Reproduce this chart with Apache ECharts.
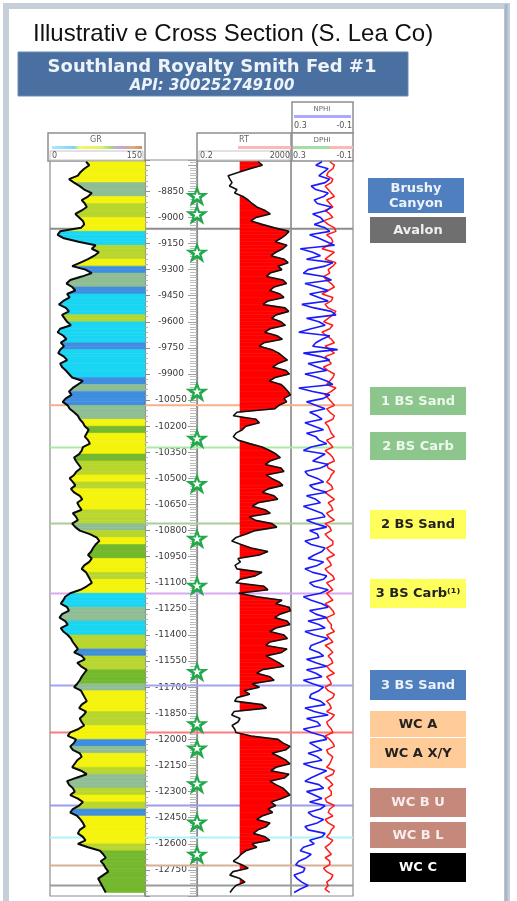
<!DOCTYPE html>
<html>
<head>
<meta charset="utf-8">
<script src="https://cdn.jsdelivr.net/npm/echarts@6/dist/echarts.min.js"></script>
<style>
html,body{margin:0;padding:0;background:#fff}
#chart{width:517px;height:901px}
</style>
</head>
<body>
<div id="chart"></div>
<script>
// ---- Log samples (measured depth in ft, every 20 ft) ----
const DEPTH = [
  8680, 8700, 8720, 8740, 8760, 8780, 8800, 8820, 8840, 8860,
  8880, 8900, 8920, 8940, 8960, 8980, 9000, 9020, 9040, 9060,
  9080, 9100, 9120, 9140, 9160, 9180, 9200, 9220, 9240, 9260,
  9280, 9300, 9320, 9340, 9360, 9380, 9400, 9420, 9440, 9460,
  9480, 9500, 9520, 9540, 9560, 9580, 9600, 9620, 9640, 9660,
  9680, 9700, 9720, 9740, 9760, 9780, 9800, 9820, 9840, 9860,
  9880, 9900, 9920, 9940, 9960, 9980, 10000, 10020, 10040, 10060,
  10080, 10100, 10120, 10140, 10160, 10180, 10200, 10220, 10240, 10260,
  10280, 10300, 10320, 10340, 10360, 10380, 10400, 10420, 10440, 10460,
  10480, 10500, 10520, 10540, 10560, 10580, 10600, 10620, 10640, 10660,
  10680, 10700, 10720, 10740, 10760, 10780, 10800, 10820, 10840, 10860,
  10880, 10900, 10920, 10940, 10960, 10980, 11000, 11020, 11040, 11060,
  11080, 11100, 11120, 11140, 11160, 11180, 11200, 11220, 11240, 11260,
  11280, 11300, 11320, 11340, 11360, 11380, 11400, 11420, 11440, 11460,
  11480, 11500, 11520, 11540, 11560, 11580, 11600, 11620, 11640, 11660,
  11680, 11700, 11720, 11740, 11760, 11780, 11800, 11820, 11840, 11860,
  11880, 11900, 11920, 11940, 11960, 11980, 12000, 12020, 12040, 12060,
  12080, 12100, 12120, 12140, 12160, 12180, 12200, 12220, 12240, 12260,
  12280, 12300, 12320, 12340, 12360, 12380, 12400, 12420, 12440, 12460,
  12480, 12500, 12520, 12540, 12560, 12580, 12600, 12620, 12640, 12660,
  12680, 12700, 12720, 12740, 12760, 12780, 12800, 12820, 12840, 12860,
  12880
];

// Gamma ray, API
const GR = [
  57, 62, 54, 48, 44, 30, 38, 47, 54, 66,
  60, 50, 55, 58, 50, 40, 46, 52, 54, 49,
  16, 12, 22, 45, 72, 66, 77, 70, 60, 48,
  35, 56, 66, 50, 32, 26, 35, 40, 27, 31,
  21, 14, 25, 30, 19, 23, 27, 33, 16, 12,
  21, 26, 17, 22, 16, 13, 22, 27, 16, 19,
  25, 30, 35, 52, 44, 36, 30, 34, 25, 20,
  28, 31, 38, 44, 47, 52, 55, 61, 58, 55,
  60, 63, 52, 50, 46, 38, 41, 45, 49, 42,
  38, 31, 36, 40, 33, 38, 47, 51, 43, 46,
  50, 36, 41, 44, 35, 40, 47, 63, 74, 78,
  72, 68, 65, 60, 66, 62, 54, 50, 57, 60,
  63, 66, 58, 48, 32, 24, 21, 17, 27, 30,
  19, 15, 24, 28, 17, 21, 28, 33, 36, 40,
  44, 38, 50, 55, 43, 49, 58, 54, 50, 47,
  43, 38, 49, 52, 55, 58, 50, 46, 57, 53,
  47, 50, 54, 45, 32, 28, 41, 38, 32, 36,
  47, 50, 43, 39, 35, 49, 58, 42, 27, 30,
  36, 39, 32, 44, 52, 46, 36, 32, 43, 48,
  52, 55, 47, 44, 52, 56, 44, 60, 79, 84,
  88, 80, 85, 88, 92, 84, 76, 79, 82, 85,
  88
];

// Lithology shading class per 40-ft interval (C cyan, B blue, O grey-green, L lime, Y yellow, G green)
const FACIES = (
  'YYYOOYLLYY' + 'CCLLYBOOBC' + 'CCLCCCBCCC' + 'CBOBBOOYGY' + 'YYGLLYLYYY' +
  'LLOLYGGYYL' + 'YYCCOOCCLL' + 'BLLGGOYYYL' + 'LYYBOYYLOO' + 'LYLBYYYYLG' + 'GGGGG'
).split('');

// Deep resistivity, ohm-m
const RT = [
  79, 120, 36, 12, 4.2, 5, 6.2, 4.8, 10, 8,
  18, 30, 44, 70, 157, 260, 65, 40, 117, 400,
  1644, 1200, 750, 420, 1351, 900, 460, 280, 1007, 1500,
  560, 820, 255, 180, 914, 1300, 378, 250, 681, 1000,
  210, 130, 1111, 1600, 460, 300, 750, 1150, 255, 150,
  507, 850, 142, 90, 311, 600, 914, 1400, 560, 330,
  1225, 1700, 417, 240, 750, 1100, 1490, 1900, 1007, 1300,
  617, 400, 10, 7, 65, 90, 24, 17, 9.1, 7,
  11, 35, 117, 250, 460, 700, 255, 160, 750, 1000,
  173, 300, 617, 900, 210, 120, 378, 550, 79, 45,
  157, 260, 33, 60, 311, 500, 59, 25, 9.1, 6,
  15, 40, 210, 90, 11, 14, 8.3, 10, 117, 60,
  13.5, 9, 142, 210, 12, 70, 828, 450, 1644, 1900,
  681, 400, 1351, 1800, 460, 250, 1007, 1400, 255, 170,
  1351, 800, 173, 330, 617, 1000, 117, 70, 255, 380,
  44, 90, 20, 35, 10, 8, 117, 180, 7.5, 6,
  13.5, 11, 6.2, 8, 9.1, 40, 560, 900, 1813, 1200,
  311, 650, 1225, 1800, 460, 280, 1644, 1100, 255, 450,
  914, 1300, 1813, 800, 282, 450, 210, 330, 117, 70,
  255, 180, 79, 50, 157, 250, 44, 70, 24, 15,
  11, 7, 16, 30, 6.8, 5, 13.5, 22, 9.1, 6.5,
  5.1
];
const RT_CUTOFF = 13.5;

// Neutron porosity, v/v
const NPHI = [
  0.10, 0.14, 0.06, 0.09, 0.12, 0.05, 0.08, 0.17, 0.14, 0.06, 0.09, 0.15, 0.13, 0.04, 0.07, 0.16, 0.11, 0.09, 0.15, 0.08,
  0.05, 0.18, 0.12, 0.07, 0.02, 0.24, 0.16, 0.11, 0.20, 0.03, 0.08, 0.19, 0.22, 0.09, 0.04, 0.21, 0.13, 0.06, 0.18, 0.12,
  0.06, 0.23, 0.15, 0.04, 0.01, 0.20, 0.12, 0.08, 0.17, 0.25, 0.05, 0.10, 0.14, 0.16, 0.00, 0.22, 0.11, 0.05, 0.19, 0.13,
  0.07, 0.21, 0.13, 0.07, 0.03, 0.25, 0.16, 0.05, 0.09, 0.20, 0.14, 0.08, 0.18, 0.13, 0.10, 0.21, 0.15, 0.09, 0.20, 0.14,
  0.12, 0.07, 0.17, 0.22, 0.08, 0.12, 0.16, 0.06, 0.11, 0.21, 0.19, 0.13, 0.09, 0.18, 0.15, 0.07, 0.20, 0.14, 0.11, 0.22,
  0.16, 0.10, 0.08, 0.20, 0.14, 0.07, 0.18, 0.13, 0.12, 0.21, 0.17, 0.08, 0.10, 0.15, 0.19, 0.09, 0.13, 0.21, 0.16, 0.07,
  0.09, 0.18, 0.15, 0.06, 0.11, 0.22, 0.17, 0.10, 0.06, 0.18, 0.14, 0.07, 0.19, 0.12, 0.08, 0.21, 0.15, 0.06, 0.11, 0.17,
  0.18, 0.12, 0.09, 0.20, 0.14, 0.07, 0.20, 0.14, 0.10, 0.22, 0.16, 0.09, 0.12, 0.17, 0.18, 0.11, 0.08, 0.21, 0.15, 0.06,
  0.20, 0.13, 0.11, 0.22, 0.17, 0.09, 0.07, 0.18, 0.14, 0.10, 0.19, 0.13, 0.10, 0.22, 0.16, 0.07, 0.12, 0.17, 0.21, 0.12,
  0.09, 0.20, 0.15, 0.10, 0.18, 0.08, 0.11, 0.19, 0.16, 0.09, 0.13, 0.21, 0.19, 0.08, 0.10, 0.18, 0.15, 0.22, 0.24, 0.17,
  0.20, 0.25, 0.27, 0.21, 0.22, 0.28, 0.26, 0.23, 0.19, 0.24, 0.28
];

// Density porosity, v/v
const DPHI = [
  0.05, 0.02, 0.03, 0.06, 0.07, 0.03, 0.04, 0.08, 0.06, 0.04, 0.02, 0.07, 0.05, 0.03, 0.08, 0.05, 0.03, 0.09, 0.06, 0.02,
  0.01, 0.07, 0.04, 0.03, 0.06, 0.10, 0.02, 0.05, 0.08, 0.01, 0.03, 0.06, 0.05, 0.09, 0.07, 0.04, 0.02, 0.06, 0.10, 0.03,
  0.04, 0.08, 0.06, 0.01, 0.03, 0.06, 0.09, 0.03, 0.05, 0.10, 0.07, 0.04, 0.02, 0.08, 0.05, 0.02, 0.08, 0.06, 0.04, 0.09,
  0.06, 0.02, 0.03, 0.05, 0.07, 0.01, 0.04, 0.08, 0.06, 0.04, 0.02, 0.07, 0.05, 0.02, 0.03, 0.08, 0.06, 0.05, 0.04, 0.02,
  0.07, 0.05, 0.03, 0.08, 0.05, 0.03, 0.02, 0.07, 0.06, 0.02, 0.04, 0.05, 0.07, 0.04, 0.03, 0.08, 0.05, 0.02, 0.06, 0.04,
  0.03, 0.07, 0.05, 0.02, 0.08, 0.05, 0.04, 0.08, 0.06, 0.03, 0.03, 0.07, 0.05, 0.02, 0.07, 0.05, 0.04, 0.08, 0.06, 0.03,
  0.02, 0.07, 0.05, 0.03, 0.07, 0.05, 0.03, 0.08, 0.05, 0.03, 0.02, 0.07, 0.06, 0.04, 0.04, 0.02, 0.07, 0.05, 0.03, 0.08,
  0.05, 0.03, 0.06, 0.04, 0.03, 0.07, 0.05, 0.02, 0.07, 0.05, 0.04, 0.08, 0.06, 0.02, 0.03, 0.07, 0.05, 0.04, 0.07, 0.02,
  0.04, 0.07, 0.06, 0.04, 0.03, 0.08, 0.05, 0.03, 0.02, 0.07, 0.06, 0.03, 0.04, 0.05, 0.07, 0.02, 0.03, 0.08, 0.05, 0.03,
  0.06, 0.04, 0.04, 0.08, 0.07, 0.02, 0.05, 0.06, 0.03, 0.08, 0.06, 0.02, 0.04, 0.05, 0.07, 0.03, 0.05, 0.08, 0.06, 0.04,
  0.08, 0.05, 0.05, 0.09, 0.07, 0.03, 0.04, 0.07, 0.06, 0.08, 0.05
];

// Formation tops (ft) and their line colours
const TOP_DEPTHS = [9065, 10080, 10322, 10759, 11161, 11690, 11960, 12380, 12564, 12725, 12840];
const TOP_COLORS = ['#8c8c8c', '#f6b08c', '#a6eca6', '#a9cd96', '#d9aaf2', '#a4a4f0', '#ff7a7a', '#9c9cec', '#aef4fa', '#d6b096', '#9a9a9a'];

// Picked landing points (ft)
const STAR_DEPTHS = [8875, 8980, 9200, 10000, 10270, 10530, 10845, 11115, 11610, 11910, 12050, 12255, 12475, 12660];

// Zone tags shown to the right of the log
const ZONE_NAMES = ['Brushy\nCanyon', 'Avalon', '1 BS Sand', '2 BS Carb', '2 BS Sand', '3 BS Carb\u207D\u00B9\u207E',
  '3 BS Sand', 'WC A', 'WC A X/Y', 'WC B U', 'WC B L', 'WC C'];
const ZONE_BOX = [[178, 213], [217, 243], [387, 415], [432, 460], [510, 539], [579, 608],
  [670, 700], [711, 737], [738, 768], [788, 817], [822, 848], [853, 882]];
const ZONE_FILL = ['#4f7fbe', '#6f6f6f', '#8dc68d', '#8dc68d', '#ffff5c', '#ffff5c',
  '#4f7fbe', '#ffcc99', '#ffcc99', '#c4897a', '#c4897a', '#000000'];
const ZONE_TEXT = ['#eef3fa', '#f0f0f0', '#eef8ee', '#eef8ee', '#222222', '#222222',
  '#eef3fa', '#222222', '#222222', '#f8eeee', '#f8eeee', '#ffffff'];

const FACIES_COLOR = { C: '#1ad6f3', B: '#3f8ee0', O: '#8fbe94', L: '#b9d62f', Y: '#f4f40c', G: '#74b92d' };

const Y_MIN = -12900, Y_MAX = -8670;

// ---- helpers ----
function txt(x, y, text, font, fill, align, valign) {
  return {
    type: 'text', x: x, y: y, silent: true,
    style: {
      text: text, font: font, fill: fill,
      align: align || 'center', verticalAlign: valign || 'middle',
      textAlign: align || 'center', textVerticalAlign: valign || 'middle'
    }
  };
}
function rect(x, y, w, h, fill, stroke, lw) {
  return {
    type: 'rect', silent: true, shape: { x: x, y: y, width: w, height: h },
    style: { fill: fill || 'none', stroke: stroke || 'none', lineWidth: lw || 0 }
  };
}
// Region between polyline a and polyline b where b lies to the right of a, for one segment
function bandPoly(a0, a1, b0, b1) {
  const d0 = b0[0] - a0[0], d1 = b1[0] - a1[0];
  if (d0 <= 0 && d1 <= 0) return null;
  if (d0 > 0 && d1 > 0) return [a0, b0, b1, a1];
  const t = d0 / (d0 - d1);
  const m = [a0[0] + (a1[0] - a0[0]) * t, a0[1] + (a1[1] - a0[1]) * t];
  return d0 > 0 ? [a0, b0, m] : [m, b1, a1];
}

const segIdx = DEPTH.slice(0, -1).map((d, i) => i);

// ---- static decorations: frame, title, well banner, track headers, zone tags ----
const sans = '"DejaVu Sans", sans-serif';
const elements = [];
elements.push(rect(6, 6, 501, 905, 'none', '#c6cfd9', 6));
elements.push({ type: 'line', silent: true, shape: { x1: 506, y1: 4, x2: 506, y2: 901 }, style: { stroke: '#a7b6ca', lineWidth: 3 } });
elements.push(txt(33, 34, 'Illustrativ e Cross Section (S. Lea Co)', '24px "Liberation Sans", Arial, sans-serif', '#111', 'left'));
elements.push(rect(18, 52, 390, 44, '#4a6fa1', '#6d8bb5', 1));
elements.push(txt(212, 67, 'Southland Royalty Smith Fed #1', 'bold 18px ' + sans, '#eef3f9'));
elements.push(txt(212, 86, 'API: 300252749100', 'italic bold 15px ' + sans, '#eef3f9'));

// GR header
elements.push(rect(48, 133, 97, 28, '#fff', '#8f8f8f', 1.5));
elements.push(txt(96, 140, 'GR', '8px ' + sans, '#666'));
elements.push({
  type: 'rect', silent: true, shape: { x: 52, y: 146, width: 90, height: 3 },
  style: {
    fill: new echarts.graphic.LinearGradient(0, 0, 1, 0, [
      { offset: 0, color: '#aee8ff' }, { offset: 0.25, color: '#7fd3f5' },
      { offset: 0.3, color: '#f6f66a' }, { offset: 0.55, color: '#e4ef6a' },
      { offset: 0.65, color: '#a7d88a' }, { offset: 0.75, color: '#c9a0ea' },
      { offset: 0.9, color: '#d9ad80' }, { offset: 1, color: '#c99266' }
    ])
  }
});
elements.push(rect(50, 151, 93, 9, 'none', '#c4c4c4', 1));
elements.push(txt(52, 156, '0', '8px ' + sans, '#555', 'left'));
elements.push(txt(142, 156, '150', '8px ' + sans, '#555', 'right'));

// RT header
elements.push(rect(197, 133, 94, 28, '#fff', '#8f8f8f', 1.5));
elements.push(txt(244, 140, 'RT', '8px ' + sans, '#666'));
elements.push(rect(238, 146, 55, 3, '#ffb6b6'));
elements.push(rect(199, 151, 90, 9, 'none', '#c4c4c4', 1));
elements.push(txt(200, 156, '0.2', '8px ' + sans, '#555', 'left'));
elements.push(txt(290, 156, '2000', '8px ' + sans, '#555', 'right'));

// NPHI / DPHI header
elements.push(rect(292, 102, 61, 31, '#fff', '#8f8f8f', 1.5));
elements.push(txt(322, 109, 'NPHI', '7px ' + sans, '#666'));
elements.push(rect(294, 115, 57, 3, '#aaaaff'));
elements.push(txt(294, 126, '0.3', '8px ' + sans, '#555', 'left'));
elements.push(txt(352, 126, '-0.1', '8px ' + sans, '#555', 'right'));
elements.push(rect(292, 133, 61, 28, '#fff', '#8f8f8f', 1.5));
elements.push(txt(322, 140, 'DPHI', '7px ' + sans, '#666'));
elements.push(rect(293, 146, 37, 3, '#a6dca6'));
elements.push(rect(330, 146, 23, 3, '#ffb6b6'));
elements.push(txt(293, 156, '0.3', '8px ' + sans, '#555', 'left'));
elements.push(txt(352, 156, '-0.1', '8px ' + sans, '#555', 'right'));

// Zone tags
ZONE_NAMES.forEach((name, i) => {
  const y0 = ZONE_BOX[i][0], y1 = ZONE_BOX[i][1];
  const x0 = i === 0 ? 368 : 370;
  elements.push(rect(x0, y0, 96, y1 - y0, ZONE_FILL[i]));
  const t = txt(x0 + 48, (y0 + y1) / 2 + 0.5, name, 'bold 13px ' + sans, ZONE_TEXT[i]);
  t.style.lineHeight = 15;
  elements.push(t);
});

const depthAxisBase = {
  gridIndex: 1, type: 'value', min: Y_MIN, max: Y_MAX, interval: 150,
  splitLine: { show: false },
  axisLine: { show: true, lineStyle: { color: '#8d8d8d', width: 1.2 } }
};
const gridBase = { top: 160, height: 736, show: true, borderColor: '#8d8d8d', borderWidth: 1.2, outerBoundsMode: 'none' };

const option = {
  animation: false,
  backgroundColor: '#ffffff',
  graphic: { elements: elements },
  grid: [
    Object.assign({ left: 50, width: 95 }, gridBase),
    Object.assign({ left: 145, width: 52 }, gridBase),
    Object.assign({ left: 197, width: 94 }, gridBase),
    Object.assign({ left: 291, width: 62 }, gridBase),
    { left: 50, top: 160, width: 303, height: 736, show: false, outerBoundsMode: 'none' }
  ],
  xAxis: [
    { gridIndex: 0, type: 'value', min: 0, max: 150, show: false },
    { gridIndex: 1, type: 'value', min: 0, max: 1, show: false },
    { gridIndex: 2, type: 'log', logBase: 10, min: 0.2, max: 2000, show: false },
    { gridIndex: 3, type: 'value', min: -0.1, max: 0.3, inverse: true, show: false },
    { gridIndex: 4, type: 'value', min: 0, max: 1, show: false }
  ],
  yAxis: [
    { gridIndex: 0, type: 'value', min: Y_MIN, max: Y_MAX, show: false },
    Object.assign({}, depthAxisBase, {
      position: 'left',
      axisTick: { show: true, inside: true, length: 5, lineStyle: { color: '#8d8d8d' } },
      minorTick: { show: true, splitNumber: 5, length: 3, lineStyle: { color: '#b5b5b5' } },
      axisLabel: {
        show: true, inside: true, margin: 26, align: 'center',
        fontSize: 9, fontFamily: 'DejaVu Sans', color: '#3a3a3a',
        formatter: v => (v >= -12750 && v <= -8850 ? String(v) : '')
      }
    }),
    Object.assign({}, depthAxisBase, {
      position: 'right',
      axisTick: { show: true, inside: true, length: 9, lineStyle: { color: '#a0a0a0' } },
      minorTick: { show: true, splitNumber: 10, length: 7, lineStyle: { color: '#bcbcbc' } },
      axisLabel: { show: false }
    }),
    { gridIndex: 2, type: 'value', min: Y_MIN, max: Y_MAX, show: false },
    { gridIndex: 3, type: 'value', min: Y_MIN, max: Y_MAX, show: false },
    { gridIndex: 4, type: 'value', min: Y_MIN, max: Y_MAX, show: false }
  ],
  series: [
    // formation tops across all tracks
    {
      type: 'custom', xAxisIndex: 4, yAxisIndex: 5, z: 1, silent: true,
      data: TOP_DEPTHS.map(d => [0, -d]),
      renderItem: (params, api) => {
        const p0 = api.coord([0, api.value(1)]);
        const p1 = api.coord([1, api.value(1)]);
        return {
          type: 'line', shape: { x1: p0[0], y1: p0[1], x2: p1[0], y2: p1[1] },
          style: { stroke: TOP_COLORS[params.dataIndex], lineWidth: 2 }
        };
      }
    },
    // GR shading from the curve to 150 API
    {
      type: 'custom', xAxisIndex: 0, yAxisIndex: 0, z: 2, silent: true,
      data: segIdx.map(i => [GR[i], -DEPTH[i], GR[i + 1], -DEPTH[i + 1]]),
      renderItem: (params, api) => {
        const p0 = api.coord([api.value(0), api.value(1)]);
        const p1 = api.coord([api.value(2), api.value(3)]);
        const r0 = api.coord([150, api.value(1)]);
        const r1 = api.coord([150, api.value(3)]);
        const c = FACIES_COLOR[FACIES[Math.floor(params.dataIndex / 2)]];
        return { type: 'polygon', shape: { points: [p0, p1, r1, r0] }, style: { fill: c, stroke: c, lineWidth: 0.6 } };
      }
    },
    {
      name: 'GR', type: 'line', xAxisIndex: 0, yAxisIndex: 0, z: 4, silent: true,
      symbol: 'none', data: DEPTH.map((d, i) => [GR[i], -d]),
      lineStyle: { color: '#0a0a0a', width: 2 }
    },
    // RT shading above the cutoff
    {
      type: 'custom', xAxisIndex: 2, yAxisIndex: 3, z: 2, silent: true,
      data: segIdx.map(i => [RT[i], -DEPTH[i], RT[i + 1], -DEPTH[i + 1]]),
      renderItem: (params, api) => {
        const a0 = api.coord([RT_CUTOFF, api.value(1)]);
        const a1 = api.coord([RT_CUTOFF, api.value(3)]);
        const b0 = api.coord([api.value(0), api.value(1)]);
        const b1 = api.coord([api.value(2), api.value(3)]);
        const pts = bandPoly(a0, a1, b0, b1);
        if (!pts) return null;
        return { type: 'polygon', shape: { points: pts }, style: { fill: '#ff0000', stroke: '#ff0000', lineWidth: 0.6 } };
      }
    },
    {
      name: 'RT', type: 'line', xAxisIndex: 2, yAxisIndex: 3, z: 4, silent: true,
      symbol: 'none', data: DEPTH.map((d, i) => [RT[i], -d]),
      lineStyle: { color: '#111', width: 1.6 }
    },
    // neutron-density crossover shading
    {
      type: 'custom', xAxisIndex: 3, yAxisIndex: 4, z: 2, silent: true,
      data: segIdx.map(i => [NPHI[i], -DEPTH[i], NPHI[i + 1], -DEPTH[i + 1], DPHI[i], DPHI[i + 1]]),
      renderItem: (params, api) => {
        const a0 = api.coord([api.value(4), api.value(1)]);
        const a1 = api.coord([api.value(5), api.value(3)]);
        const b0 = api.coord([api.value(0), api.value(1)]);
        const b1 = api.coord([api.value(2), api.value(3)]);
        const pts = bandPoly(a0, a1, b0, b1);
        if (!pts) return null;
        return { type: 'polygon', shape: { points: pts }, style: { fill: '#1f9a2a', stroke: '#1f9a2a', lineWidth: 0.5 } };
      }
    },
    {
      name: 'DPHI', type: 'line', xAxisIndex: 3, yAxisIndex: 4, z: 4, silent: true,
      symbol: 'none', data: DEPTH.map((d, i) => [DPHI[i], -d]),
      lineStyle: { color: '#ff1a1a', width: 1.5 }
    },
    {
      name: 'NPHI', type: 'line', xAxisIndex: 3, yAxisIndex: 4, z: 5, silent: true,
      symbol: 'none', data: DEPTH.map((d, i) => [NPHI[i], -d]),
      lineStyle: { color: '#1a1aff', width: 1.6 }
    },
    // stars on the depth track edge
    {
      type: 'scatter', xAxisIndex: 1, yAxisIndex: 1, z: 8, silent: true, clip: false,
      symbol: 'path://M12,0.8 L14.9,9.1 L23.6,9.1 L16.6,14.3 L19.2,22.6 L12,17.5 L4.8,22.6 L7.4,14.3 L0.4,9.1 L9.1,9.1 Z',
      symbolSize: 23, symbolKeepAspect: true,
      itemStyle: { color: '#22a94b', opacity: 1 },
      data: STAR_DEPTHS.map(d => [1, -d])
    },
    {
      type: 'scatter', xAxisIndex: 1, yAxisIndex: 1, z: 9, silent: true, clip: false,
      symbol: 'path://M12,0.8 L14.9,9.1 L23.6,9.1 L16.6,14.3 L19.2,22.6 L12,17.5 L4.8,22.6 L7.4,14.3 L0.4,9.1 L9.1,9.1 Z',
      symbolSize: 9, symbolKeepAspect: true,
      itemStyle: { color: '#ffffff', opacity: 1 },
      data: STAR_DEPTHS.map(d => [1, -d])
    }
  ]
};

const chart = echarts.init(document.getElementById('chart'), null, { renderer: 'canvas', width: 517, height: 901 });
chart.setOption(option);
</script>
</body>
</html>
